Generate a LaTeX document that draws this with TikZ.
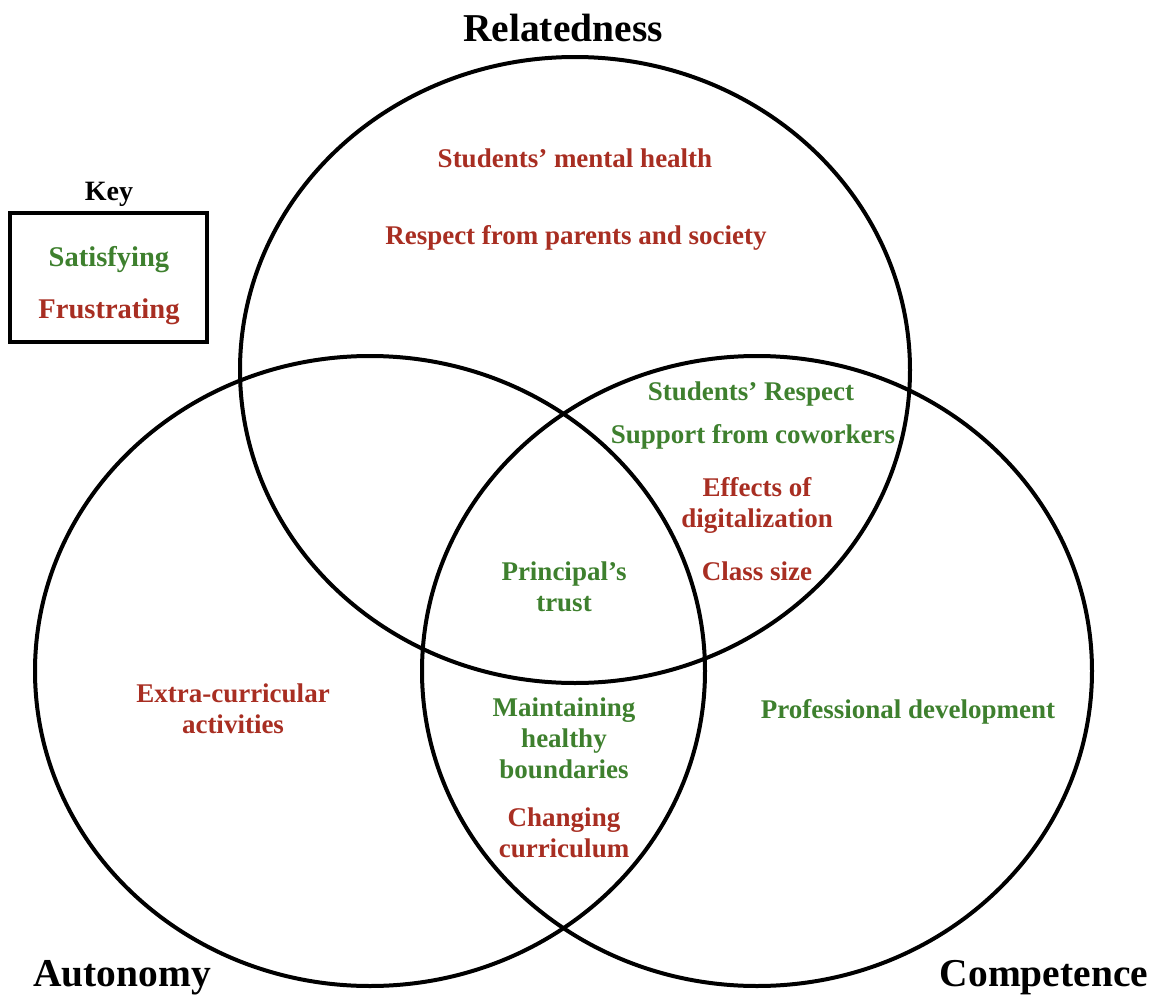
\documentclass[tikz,border=0pt]{standalone}
\usepackage{fontspec}
\setmainfont{Liberation Serif}
\definecolor{satgreen}{RGB}{62,128,46}
\definecolor{frusred}{RGB}{168,46,34}
\begin{document}
\begin{tikzpicture}[x=0.75pt,y=-0.75pt,
  ring/.style={line width=3pt},
  need/.style={font=\fontsize{29.6}{34}\selectfont\bfseries,anchor=base},
  lbl/.style={font=\fontsize{20.25}{23.25}\selectfont\bfseries,align=center,anchor=base},
  sat/.style={lbl,text=satgreen},
  frus/.style={lbl,text=frusred}]
 \useasboundingbox (0,0) rectangle (1158,996);
 % the three needs
 \draw[ring] (575,370) ellipse [x radius=335, y radius=313];
 \draw[ring] (370,671) ellipse [x radius=335, y radius=315];
 \draw[ring] (757,671) ellipse [x radius=335, y radius=315];
 \node[need] (rel) at (563,41) {Relatedness};
 \node[need] (aut) at (122,986) {Autonomy};
 \node[need] (com) at (1044,986) {Competence};
 % key
 \draw[line width=3pt] (10,213) rectangle (207,342);
 \node[lbl,font=\fontsize{21}{24}\selectfont\bfseries] (key) at (109,200) {Key};
 \node[sat,font=\fontsize{21.4}{24}\selectfont\bfseries] (keysat) at (109,266) {Satisfying};
 \node[frus,font=\fontsize{21.4}{24}\selectfont\bfseries] (keyfrus) at (109,318) {Frustrating};
 % relatedness only
 \node[frus] (mental) at (575,167) {Students’ mental health};
 \node[frus] (respect) at (576,244) {Respect from parents and society};
 % relatedness and competence (base = last line)
 \node[sat] (studresp) at (751,400) {Students’ Respect};
 \node[sat] (cowork) at (753,443) {Support from coworkers};
 \node[frus] (digital) at (757,527) {Effects of\\digitalization};
 \node[frus] (classsize) at (757,580) {Class size};
 % all three
 \node[sat] (trust) at (564,611) {Principal’s\\trust};
 % autonomy only
 \node[frus] (extra) at (233,733) {Extra-curricular\\activities};
 % autonomy and competence
 \node[sat] (bound) at (564,778) {Maintaining\\healthy\\boundaries};
 \node[frus] (curric) at (564,857) {Changing\\curriculum};
 % competence only
 \node[sat] (profdev) at (908,718) {Professional development};
\end{tikzpicture}
\end{document}
